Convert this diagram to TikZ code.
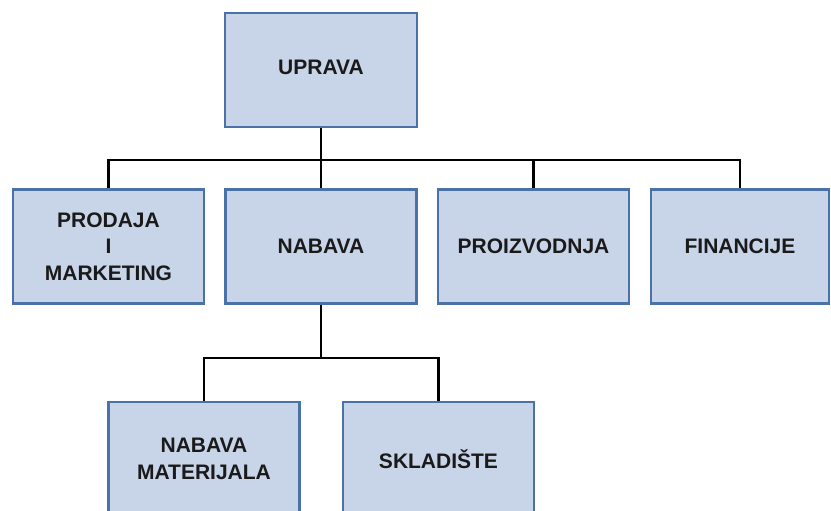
\documentclass[tikz,border=0pt]{standalone}
\usepackage{fontspec}
\setmainfont{Liberation Sans}
\definecolor{boxfill}{HTML}{C8D5E8}
\definecolor{boxline}{HTML}{4A72A6}
\definecolor{inkc}{HTML}{1A1A1A}
\begin{document}
\begin{tikzpicture}[x=1pt,y=-1pt,
  unit/.style={draw=boxline, fill=boxfill, line width=2.4pt, inner sep=0pt,
    minimum width=191pt, minimum height=114pt, align=center,
    font=\fontsize{21}{26.5}\selectfont\bfseries, text=inkc},
  link/.style={draw=black, line width=2.5pt}]
\useasboundingbox (0,0) rectangle (831,511);
\clip (0,0) rectangle (831,511);
\fill[white] (0,0) rectangle (831,511);

% top level
\node[unit, minimum width=192pt] (up) at (321,70) {\raisebox{5pt}{UPRAVA}};

% second level
\node[unit] (pm)  at (108.5,246.5) {PRODAJA\\I\\MARKETING};
\node[unit] (nab) at (321,246.5) {NABAVA};
\node[unit] (pro) at (533.5,246.5) {PROIZVODNJA};
\node[unit, minimum width=178pt] (fin) at (740,246.5) {FINANCIJE};

% third level
\node[unit] (mat) at (204,459) {NABAVA\\MATERIJALA};
\node[unit] (skl) at (438.5,459) {SKLADIŠTE};

% connectors
\coordinate (bus1) at (321,160);
\coordinate (bus2) at (321,358);
\draw[link] (up.south) -- (bus1);
\draw[link] (pm.north) |- (bus1) -| (fin.north);
\draw[link] (bus1) -- (nab.north);
\draw[link] (pro.north) -- (pro.north |- bus1);
\draw[link] (nab.south) -- (bus2);
\draw[link] (mat.north) |- (bus2) -| (skl.north);
\end{tikzpicture}
\end{document}
